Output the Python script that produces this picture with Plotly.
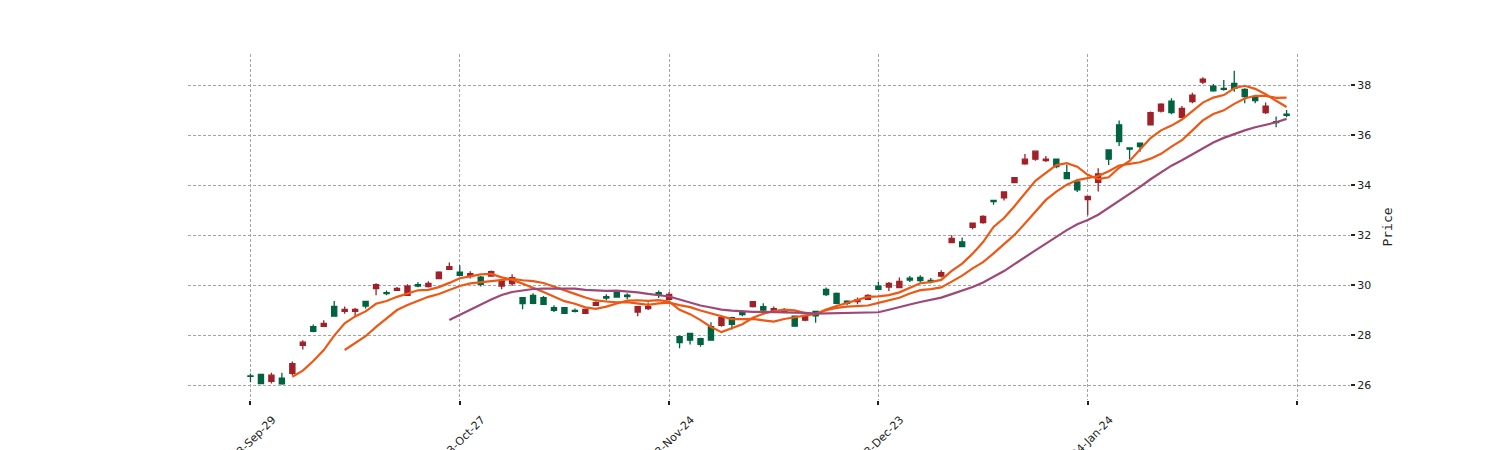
import plotly.graph_objects as go
import pandas as pd

# ---- data ----
opens = [26.36, 26.08, 26.41, 26.07, 26.87, 27.73, 28.16, 28.48, 28.77, 29.04,
         29.04, 29.17, 30.03, 29.67, 29.88, 29.97, 29.97, 30.08, 30.53, 30.75,
         30.40, 30.47, 30.04, 30.55, 30.20, 30.31, 29.27, 29.28, 29.24, 29.00,
         28.88, 28.96, 29.04, 29.31, 29.49, 29.53, 29.55, 29.15, 29.15, 29.64,
         29.64, 27.71, 27.81, 27.64, 27.81, 28.71, 28.44, 28.83, 29.35, 29.01,
         29.07, 28.96, 28.37, 28.80, 28.78, 29.63, 29.28, 29.28, 29.43, 29.60,
         29.84, 30.08, 30.16, 30.21, 30.19, 30.16, 30.51, 31.87, 31.55, 32.48,
         32.75, 33.34, 33.73, 34.30, 35.04, 35.36, 35.04, 34.74, 34.26, 33.81,
         33.55, 34.45, 35.04, 35.74, 35.44, 35.54, 36.90, 37.24, 36.90, 37.07,
         37.60, 38.24, 37.77, 37.83, 37.87, 37.54, 37.38, 37.16, 36.50, 36.79]
highs = [26.48, 26.47, 26.51, 26.51, 26.96, 27.81, 28.44, 28.61, 29.37, 29.15,
         29.09, 29.37, 30.08, 29.79, 29.93, 30.04, 30.12, 30.16, 30.56, 30.91,
         30.80, 30.56, 30.37, 30.59, 30.20, 30.44, 29.51, 29.68, 29.57, 29.20,
         29.11, 29.07, 29.07, 29.36, 29.64, 29.76, 29.68, 29.17, 29.31, 29.79,
         29.73, 28.00, 28.11, 27.91, 28.53, 28.80, 28.75, 29.01, 29.37, 29.28,
         29.15, 29.09, 28.80, 28.83, 28.96, 29.91, 29.71, 29.40, 29.51, 29.64,
         30.13, 30.13, 30.31, 30.37, 30.40, 30.29, 30.60, 32.00, 31.91, 32.51,
         32.80, 33.42, 33.76, 34.33, 35.25, 35.39, 35.17, 35.06, 34.82, 34.15,
         33.58, 34.68, 35.44, 36.58, 35.52, 35.70, 36.94, 37.27, 37.47, 37.16,
         37.69, 38.31, 38.04, 38.20, 38.57, 37.87, 37.60, 37.30, 36.74, 37.00]
lows = [26.13, 26.05, 26.08, 26.03, 26.40, 27.44, 28.13, 28.35, 28.77, 28.87,
        28.77, 29.07, 29.60, 29.60, 29.77, 29.57, 29.92, 29.91, 30.24, 30.61,
        30.37, 30.27, 29.95, 30.35, 29.84, 29.97, 29.04, 29.24, 29.24, 28.93,
        28.88, 28.91, 28.88, 29.17, 29.40, 29.51, 29.44, 28.77, 29.01, 29.49,
        29.41, 27.49, 27.64, 27.55, 27.81, 28.35, 28.24, 28.77, 29.11, 28.97,
        28.91, 28.91, 28.35, 28.57, 28.51, 29.57, 29.24, 29.20, 29.24, 29.41,
        29.81, 29.77, 29.88, 30.13, 30.11, 30.08, 30.31, 31.68, 31.52, 32.24,
        32.46, 33.22, 33.39, 34.08, 34.82, 34.98, 34.93, 34.68, 34.24, 33.73,
        32.80, 33.75, 34.81, 35.57, 35.04, 35.34, 36.38, 36.90, 36.83, 36.67,
        37.27, 38.04, 37.73, 37.77, 37.73, 37.27, 37.27, 36.84, 36.31, 36.71]
closes = [26.38, 26.44, 26.16, 26.29, 26.48, 27.60, 28.35, 28.36, 29.16, 28.96,
          28.96, 29.36, 29.87, 29.71, 29.80, 29.60, 30.03, 29.95, 30.27, 30.64,
          30.53, 30.40, 30.33, 30.37, 29.97, 30.07, 29.51, 29.60, 29.51, 29.11,
          29.11, 29.00, 28.88, 29.20, 29.55, 29.73, 29.61, 28.93, 29.07, 29.71,
          29.44, 27.95, 28.08, 27.87, 28.35, 28.40, 28.71, 28.91, 29.15, 29.15,
          28.93, 29.00, 28.77, 28.61, 28.96, 29.84, 29.68, 29.37, 29.35, 29.44,
          29.97, 29.93, 29.91, 30.29, 30.32, 30.20, 30.37, 31.71, 31.73, 32.32,
          32.51, 33.39, 33.49, 34.10, 34.85, 35.04, 34.98, 35.04, 34.50, 34.13,
          33.42, 34.11, 35.41, 36.41, 35.49, 35.68, 36.41, 36.96, 37.36, 36.71,
          37.34, 38.12, 37.96, 37.87, 38.07, 37.83, 37.51, 36.90, 36.54, 36.84]

tick_positions = [0, 20, 40, 60, 80, 100]
tick_labels = ["2023-Sep-29", "2023-Oct-27", "2023-Nov-24", "2023-Dec-23", "2024-Jan-24", ""]
y_ticks = [26, 28, 30, 32, 34, 36, 38]
mav_periods = [5, 10, 20]
mav_colors = ["#ef5714", "#ef5714", "#9f4878"]

UP = "#006340"
DOWN = "#a02128"

idx = list(range(len(closes)))
close_s = pd.Series(closes)

fig = go.Figure()
fig.add_trace(go.Candlestick(
    x=idx, open=opens, high=highs, low=lows, close=closes,
    increasing=dict(line=dict(color=UP, width=1.3), fillcolor=UP),
    decreasing=dict(line=dict(color=DOWN, width=1.3), fillcolor=DOWN),
    whiskerwidth=0, showlegend=False, hoverinfo="skip",
))
for p, c in zip(mav_periods, mav_colors):
    ma = close_s.rolling(p).mean()
    fig.add_trace(go.Scatter(x=idx, y=ma, mode="lines",
                             line=dict(color=c, width=2.2),
                             showlegend=False, hoverinfo="skip"))

grid = dict(showgrid=True, gridcolor="#a4a4a4", gridwidth=0.8, griddash="3px,2px",
            zeroline=False, showline=False, automargin=False)

fig.update_layout(
    width=1500, height=450,
    margin=dict(l=188, r=150, t=54, b=50),
    paper_bgcolor="white", plot_bgcolor="white",
    font=dict(family="DejaVu Sans", size=11, color="#222"),
    showlegend=False,
    xaxis=dict(range=[-5.97, 105.06], tickmode="array", tickvals=tick_positions,
               ticktext=tick_labels, tickangle=-45, ticks="outside", ticklen=4,
               tickwidth=1.5, tickcolor="#222", ticklabelshift=22, ticklabelstandoff=4,
               rangeslider=dict(visible=False),
               tickfont=dict(family="DejaVu Sans", size=11, color="#222"), **grid),
    yaxis=dict(side="right", range=[25.42, 39.24], tickmode="array", tickvals=y_ticks,
               ticks="outside", ticklen=4, tickwidth=1.5, tickcolor="#222",
               tickfont=dict(family="DejaVu Sans", size=11, color="#222"),
               title=dict(text="Price", standoff=12,
                          font=dict(family="DejaVu Sans Mono", size=13, color="#222")),
               **grid),
)

fig.write_html("out.html")
